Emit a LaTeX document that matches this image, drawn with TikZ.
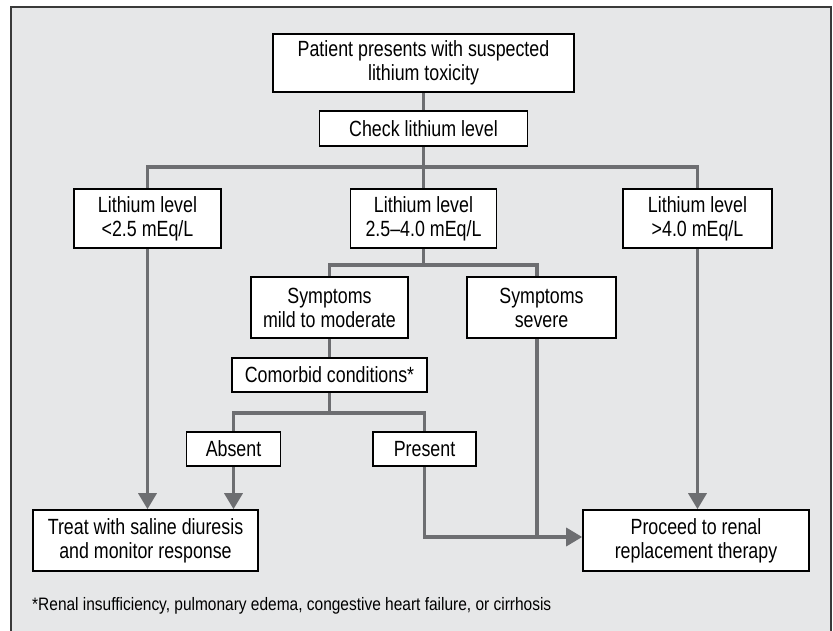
\documentclass[tikz,border=0pt]{standalone}
\usepackage{fontspec}
\setmainfont{Liberation Sans}[FakeStretch=0.81]
\newfontfamily\fnfont{Liberation Sans}[FakeStretch=0.86]
\usetikzlibrary{arrows.meta,calc}
\definecolor{bgc}{HTML}{E6E7E8}
\definecolor{connc}{HTML}{6D6E71}
\definecolor{framec}{HTML}{3A3A3A}
\pgfdeclarelayer{edgelayer}
\pgfsetlayers{edgelayer,main}
\begin{document}
\begin{tikzpicture}[x=1pt,y=-1pt,
  box/.style={draw=black, line width=1.6pt, fill=white, align=center, inner sep=0pt,
              font=\fontsize{22}{24}\selectfont},
  conn/.style={draw=connc, line width=3.4pt, line join=miter},
  arr/.style={conn, -{Triangle[length=16pt,width=18pt]}}]
\useasboundingbox (0,0) rectangle (833,631);
% nodes
\node[box, minimum width=301pt, minimum height=58pt] (top) at (423.5,63) {Patient presents with suspected\\lithium toxicity};
\node[box, minimum width=208pt, minimum height=35pt] (check) at (423.5,128.5) {Check lithium level};
\node[box, minimum width=147pt, minimum height=59pt] (L1) at (147.5,218.5) {Lithium level\\<2.5 mEq/L};
\node[box, minimum width=146pt, minimum height=59pt] (L2) at (423.5,218.5) {Lithium level\\2.5–4.0 mEq/L};
\node[box, minimum width=149pt, minimum height=59pt] (L3) at (697.5,218.5) {Lithium level\\>4.0 mEq/L};
\node[box, minimum width=157pt, minimum height=61pt] (S1) at (329.5,307.5) {Symptoms\\mild to moderate};
\node[box, minimum width=149pt, minimum height=61pt] (S2) at (541.5,307.5) {Symptoms\\severe};
\node[box, minimum width=195pt, minimum height=34pt] (C) at (329.5,375) {Comorbid conditions*};
\node[box, minimum width=94pt, minimum height=34pt] (Ab) at (233.5,449) {Absent};
\node[box, minimum width=103pt, minimum height=34pt] (Pr) at (424.5,449) {Present};
\node[box, minimum width=225pt, minimum height=61pt] (Tr) at (145.5,540.5) {Treat with saline diuresis\\and monitor response};
\node[box, minimum width=226pt, minimum height=61pt] (Pro) at (696,540.5) {Proceed to renal\\replacement therapy};
\node[anchor=west, inner sep=0pt, font=\fnfont\fontsize{18}{20}\selectfont] (fn) at (32,606) {*Renal insufficiency, pulmonary edema, congestive heart failure, or cirrhosis};
% helper coordinates
\coordinate (bar1) at (0,167);
\coordinate (bar2) at (0,265);
\coordinate (bar3) at (0,413);
\coordinate (sv) at ([xshift=-4.5pt]S2.south);
\coordinate (svn) at ([xshift=-4.5pt]S2.north);
\coordinate (jn) at ([yshift=3.5pt]Pro.west);
\begin{pgfonlayer}{edgelayer}
\fill[white] (0,0) rectangle (833,631);
\draw[fill=bgc, draw=framec, line width=1.6pt] (11,7) rectangle (831,645);
\draw[conn] (top.south) -- (check.north);
\draw[conn] (check.south) -- (check.south |- bar1);
\draw[conn] (L1.north) -- (L1.north |- bar1) -- (L3.north |- bar1) -- (L3.north);
\draw[conn] (L2.north) -- (L2.north |- bar1);
\draw[conn] (L2.south) -- (L2.south |- bar2);
\draw[conn] (S1.north) -- (S1.north |- bar2) -- (svn |- bar2) -- (svn);
\draw[conn] (S1.south) -- (C.north);
\draw[conn] (C.south) -- (C.south |- bar3);
\draw[conn] (Ab.north) -- (Ab.north |- bar3) -- (Pr.north |- bar3) -- (Pr.north);
\draw[arr] (L1.south) -- (L1.south |- Tr.north);
\draw[arr] (Ab.south) -- (Ab.south |- Tr.north);
\draw[arr] (L3.south) -- (L3.south |- Pro.north);
\draw[arr] (Pr.south) |- (jn);
\draw[conn] (sv) -- (sv |- jn);
\end{pgfonlayer}
\end{tikzpicture}
\end{document}
